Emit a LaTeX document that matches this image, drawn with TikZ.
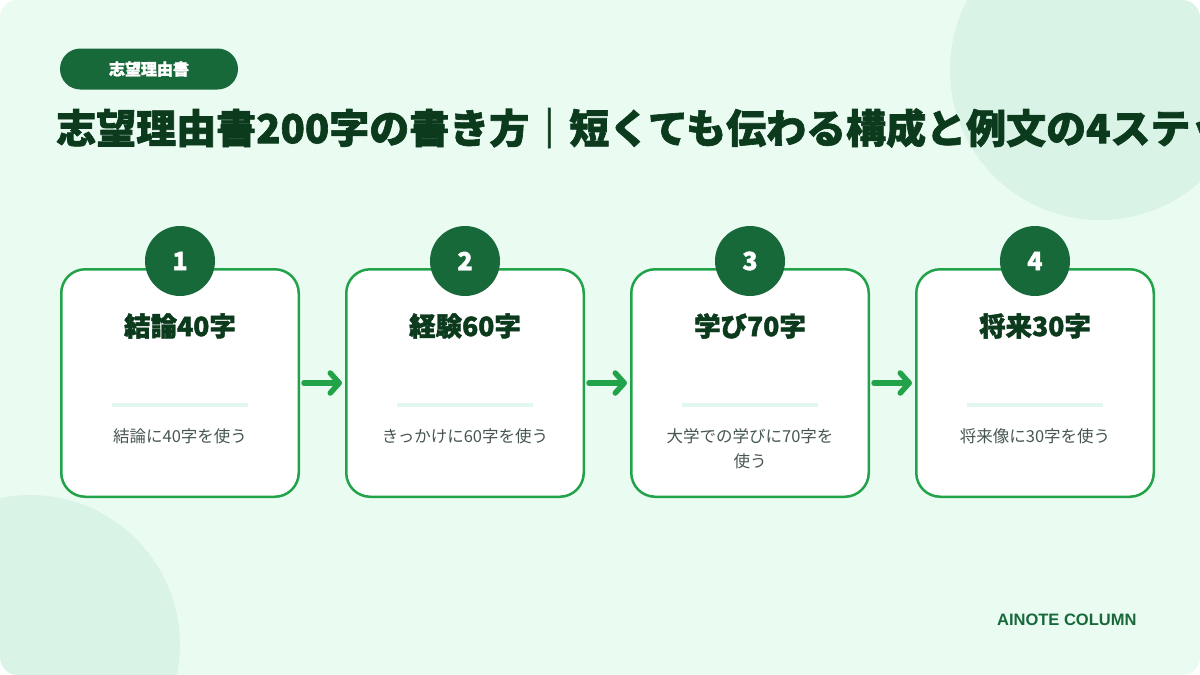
\documentclass[tikz,border=0pt]{standalone}
\usepackage{fontspec}
\setmainfont{Noto Sans CJK JP}
\newfontfamily\heavyfont[BoldFeatures={FakeBold=1.6}]{Noto Sans CJK JP}
\newfontfamily\brandfont{Liberation Sans}
\usepackage{tikz}
\usetikzlibrary{positioning,arrows.meta}

\definecolor{pagemint}{HTML}{EAFBF2}
\definecolor{blobmint}{HTML}{D9F4E6}
\definecolor{deepgreen}{HTML}{17693A}
\definecolor{inkgreen}{HTML}{0C3A1C}
\definecolor{linegreen}{HTML}{22A34A}
\definecolor{rulemint}{HTML}{E2F7EE}
\definecolor{textgray}{HTML}{475750}

\tikzset{
  stepbox/.style={draw=linegreen, line width=2.5pt, fill=white, rounded corners=24pt,
    minimum width=237.5pt, minimum height=227.5pt},
  numdisc/.style={circle, fill=deepgreen, text=white, minimum size=70pt, inner sep=0pt,
    font=\heavyfont\bfseries\fontsize{25}{25}\selectfont},
  headline/.style={text=inkgreen, font=\heavyfont\bfseries\fontsize{26.5}{26.5}\selectfont},
  stepnote/.style={text=textgray, align=center, font=\fontsize{16.5}{25}\selectfont},
  divider/.style={draw=rulemint, line width=4pt},
  flow/.style={draw=linegreen, line width=5.5pt, line cap=round,
    -{Straight Barb[round,length=9pt,width=20pt]}, shorten <=4pt, shorten >=3pt},
}

\begin{document}
\begin{tikzpicture}[x=1pt, y=-1pt, node distance=45pt]
  % Background
  \useasboundingbox (0,0) rectangle (1200,675);
  \fill[white] (0,0) rectangle (1200,675);
  \fill[pagemint, rounded corners=18pt] (0,0) rectangle (1200,675);
  \begin{scope}
    \clip[rounded corners=18pt] (0,0) rectangle (1200,675);
    \fill[blobmint] (1100,70) circle (150);
    \fill[blobmint] (30,645) circle (150);
  \end{scope}

  % Header
  \node[fill=deepgreen, text=white, rounded corners=20.5pt, minimum width=178pt, minimum height=41pt,
    font=\heavyfont\bfseries\fontsize{16}{16}\selectfont] (tag) at (149,69) {志望理由書};
  \node[anchor=west, inner sep=0pt, text=inkgreen, font=\heavyfont\bfseries\fontsize{40}{40}\selectfont] (title) at (56,128)
    {志望理由書200字の書き方｜短くても伝わる構成と例文の4ステップ};

  % Steps
  \node[stepbox] (s1) at (180,383) {};
  \node[stepbox, right=of s1] (s2) {};
  \node[stepbox, right=of s2] (s3) {};
  \node[stepbox, right=of s3] (s4) {};

  \node[numdisc] (n1) at ([yshift=7pt]s1.north) {1};
  \node[numdisc] (n2) at ([yshift=7pt]s2.north) {2};
  \node[numdisc] (n3) at ([yshift=7pt]s3.north) {3};
  \node[numdisc] (n4) at ([yshift=7pt]s4.north) {4};

  \node[headline] (h1) at ([yshift=-58pt]s1.north) {結論40字};
  \node[headline] (h2) at ([yshift=-58pt]s2.north) {経験60字};
  \node[headline] (h3) at ([yshift=-58pt]s3.north) {学び70字};
  \node[headline] (h4) at ([yshift=-58pt]s4.north) {将来30字};

  \draw[divider] ([xshift=-68pt, yshift=-137pt]s1.north) -- ([xshift=68pt, yshift=-137pt]s1.north);
  \draw[divider] ([xshift=-68pt, yshift=-137pt]s2.north) -- ([xshift=68pt, yshift=-137pt]s2.north);
  \draw[divider] ([xshift=-68pt, yshift=-137pt]s3.north) -- ([xshift=68pt, yshift=-137pt]s3.north);
  \draw[divider] ([xshift=-68pt, yshift=-137pt]s4.north) -- ([xshift=68pt, yshift=-137pt]s4.north);

  \node[stepnote] (d1) at ([yshift=-168pt]s1.north) {結論に40字を使う};
  \node[stepnote] (d2) at ([yshift=-168pt]s2.north) {きっかけに60字を使う};
  \node[stepnote, anchor=north] (d3) at ([yshift=-157pt]s3.north) {大学での学びに70字を\\使う};
  \node[stepnote] (d4) at ([yshift=-168pt]s4.north) {将来像に30字を使う};

  % Arrows
  \draw[flow] (s1) -- (s2);
  \draw[flow] (s2) -- (s3);
  \draw[flow] (s3) -- (s4);

  % Footer
  \node[anchor=east, text=deepgreen, font=\brandfont\bfseries\fontsize{16.5}{16.5}\selectfont] (brand) at (1140,620) {AINOTE COLUMN};
\end{tikzpicture}
\end{document}
